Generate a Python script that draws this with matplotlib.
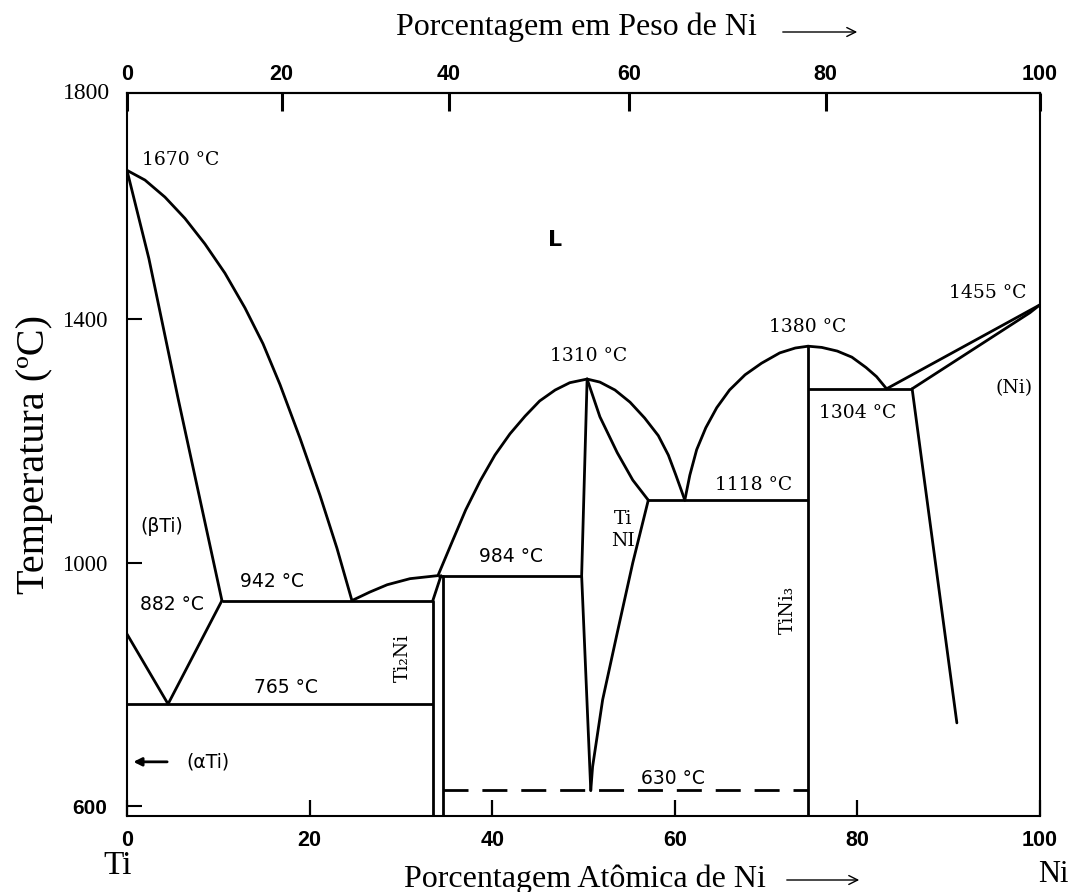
import matplotlib.pyplot as plt
from matplotlib.patches import FancyArrowPatch
import numpy as np

# Ti-Ni phase diagram
# x = at.% Ni, T = degC
M_TI = 47.867
M_NI = 58.693
T_BOTTOM = 584
T_TOP = 1772

liq_ti_x = [0, 1.97, 4.16, 6.35, 8.54, 10.73, 12.92, 14.9, 16.76, 18.95, 21.14, 23.0, 24.64]
liq_ti_T = [1645, 1629, 1601, 1566, 1524, 1476, 1419, 1360, 1293, 1205, 1111, 1024, 938]

sol_ti_x = [0, 2.4, 5.6, 10.4]
sol_ti_T = [1645, 1500, 1270, 938]

transus_x = [0, 4.5, 10.4]
transus_T = [883, 768, 938]

liq_mid_x = [24.64, 26.6, 28.5, 31.0, 34.06, 35.6, 37.1, 38.7, 40.3, 41.95,
             43.6, 45.2, 46.9, 48.5, 50.4]
liq_mid_T = [938, 952, 964, 974, 979, 1034, 1087, 1135, 1177, 1212,
             1241, 1266, 1284, 1296, 1302]

liq_tini_r_x = [50.4, 51.8, 53.45, 55.1, 56.7, 58.2, 59.3, 60.1, 60.7, 61.1]
liq_tini_r_T = [1302, 1297, 1284, 1264, 1238, 1209, 1177, 1145, 1120, 1103]

sol_tini_r_x = [50.4, 51.8, 53.7, 55.4, 57.1]
sol_tini_r_T = [1302, 1240, 1181, 1136, 1103]

solv_tini_r_x = [57.1, 55.4, 53.7, 52.1, 51.0, 50.8]
solv_tini_r_T = [1103, 1000, 885, 775, 665, 626]

tini_l_x = [50.4, 49.8, 50.8]
tini_l_T = [1302, 979, 626]

ti2ni_l_x = [33.5, 33.5]
ti2ni_l_T = [938, T_BOTTOM]
ti2ni_r_x = [34.6, 34.6]
ti2ni_r_T = [979, T_BOTTOM]
ti2ni_d_x = [33.5, 34.4]
ti2ni_d_T = [938, 979]

liq_tini3_l_x = [61.1, 61.65, 62.4, 63.4, 64.6, 66.0, 67.7, 69.5, 71.5, 73.2, 74.6]
liq_tini3_l_T = [1103, 1144, 1186, 1222, 1255, 1284, 1309, 1328, 1345, 1353, 1356]

liq_tini3_r_x = [74.6, 76.1, 77.8, 79.4, 80.95, 82.1, 83.2]
liq_tini3_r_T = [1356, 1354, 1348, 1338, 1321, 1306, 1286]

tini3_x = [74.6, 74.6]
tini3_T = [1356, T_BOTTOM]

liq_ni_x = [83.2, 100]
liq_ni_T = [1286, 1424]
sol_ni_x = [86.0, 98.9, 100]
sol_ni_T = [1286, 1411, 1424]
solv_ni_x = [86.0, 90.9]
solv_ni_T = [1286, 737]

# horizontal invariant lines: (x start, x end, T)
iso_942 = (10.4, 33.5, 938)
iso_765 = (0, 33.5, 768)
iso_984 = (34.06, 49.8, 979)
iso_1118 = (57.1, 74.6, 1103)
iso_1304 = (74.6, 86.0, 1286)
iso_630 = (34.6, 74.6, 626)

x_ticks = [0, 20, 40, 60, 80, 100]
wt_ticks = [0, 20, 40, 60, 80, 100]
y_ticks = [600, 1000, 1400]


def at_to_wt(a):
    a = np.asarray(a, dtype=float)
    return 100 * a * M_NI / (a * M_NI + (100 - a) * M_TI)


def wt_to_at(w):
    w = np.asarray(w, dtype=float)
    return 100 * (w / M_NI) / (w / M_NI + (100 - w) / M_TI)


fig = plt.figure(figsize=(10.77, 8.92), dpi=100)
ax = fig.add_axes([0.1179, 0.0852, 0.8477, 0.8105])

curves = [
    (liq_ti_x, liq_ti_T), (sol_ti_x, sol_ti_T), (transus_x, transus_T),
    (liq_mid_x, liq_mid_T), (liq_tini_r_x, liq_tini_r_T),
    (sol_tini_r_x, sol_tini_r_T), (solv_tini_r_x, solv_tini_r_T),
    (tini_l_x, tini_l_T), (ti2ni_l_x, ti2ni_l_T), (ti2ni_r_x, ti2ni_r_T),
    (ti2ni_d_x, ti2ni_d_T), (liq_tini3_l_x, liq_tini3_l_T),
    (liq_tini3_r_x, liq_tini3_r_T), (tini3_x, tini3_T),
    (liq_ni_x, liq_ni_T), (sol_ni_x, sol_ni_T), (solv_ni_x, solv_ni_T),
]
for cx, cy in curves:
    ax.plot(cx, cy, color='black', lw=2.0, solid_capstyle='round',
            solid_joinstyle='round')

for x0, x1, t in [iso_942, iso_765, iso_984, iso_1118, iso_1304]:
    ax.hlines(t, x0, x1, color='black', lw=2.0)
ax.hlines(iso_630[2], iso_630[0], iso_630[1], color='black', lw=2.0,
          linestyles=(0, (9, 5)))

ax.set_xlim(0, 100)
ax.set_ylim(T_BOTTOM, T_TOP)
for s in ax.spines.values():
    s.set_linewidth(1.5)

ax.set_xticks(x_ticks)
ax.set_xticklabels([str(v) for v in x_ticks], fontfamily='Liberation Sans',
                   fontweight='bold', fontsize=15.5)
ax.tick_params(axis='x', direction='in', length=11.5, width=1.6, pad=10)

ax.set_yticks(y_ticks)
ax.set_yticklabels([str(v) for v in y_ticks])
ax.tick_params(axis='y', direction='in', length=11, width=1.5, pad=14)
for lbl in ax.get_yticklabels():
    if lbl.get_text() == '600':
        lbl.set_fontfamily('Liberation Sans')
        lbl.set_fontweight('bold')
        lbl.set_fontsize(15)
    else:
        lbl.set_fontfamily('Liberation Serif')
        lbl.set_fontsize(16.5)
ax.text(-0.019, 1.0, '1800', transform=ax.transAxes, ha='right', va='center',
        family='Liberation Serif', fontsize=17)

secax = ax.secondary_xaxis('top', functions=(at_to_wt, wt_to_at))
secax.set_xticks(wt_ticks)
secax.set_xticklabels([str(v) for v in wt_ticks], fontfamily='Liberation Sans',
                      fontweight='bold', fontsize=15.5)
secax.tick_params(axis='x', direction='in', length=13, width=2.2, pad=6)
secax.spines['top'].set_linewidth(1.5)

# labels inside the diagram
serif = dict(family='DejaVu Serif', fontsize=13.5, ha='center', va='center')
sans = dict(family='DejaVu Sans', fontsize=13.5, ha='center', va='center')
ax.text(5.9, 1662, '1670 °C', **serif)
ax.text(46.9, 1531, 'L', family='DejaVu Sans', fontweight='bold', fontsize=16,
        ha='center', va='center')
ax.text(50.6, 1340, '1310 °C', **serif)
ax.text(74.6, 1388, '1380 °C', **serif)
ax.text(94.3, 1443, '1455 °C', **serif)
ax.text(97.2, 1287, '(Ni)', **serif)
ax.text(80.0, 1246, '1304 °C', **serif)
ax.text(68.6, 1128, '1118 °C', **serif)
ax.text(54.3, 1054, 'Ti\nNI', linespacing=1.25, **serif)
ax.text(42.1, 1010, '984 °C', **sans)
ax.text(72.4, 923, 'TiNi₃', rotation=90, **serif)
ax.text(30.2, 844, 'Ti₂Ni', rotation=90, **serif)
ax.text(15.9, 969, '942 °C', **sans)
ax.text(4.9, 931, '882 °C', **sans)
ax.text(17.4, 795, '765 °C', **sans)
ax.text(3.8, 1059, '(βTi)', **sans)
ax.text(8.9, 673, '(αTi)', **sans)
ax.annotate('', xy=(0.7, 673), xytext=(4.4, 673),
            arrowprops=dict(arrowstyle='-|>', color='black', lw=2,
                            mutation_scale=12, shrinkA=0, shrinkB=0))
ax.text(59.8, 645, '630 °C', **sans)

# axis titles
title_font = dict(family='Liberation Serif', fontsize=23, ha='center', va='center')
fig.text(576 / 1077, 1 - 27 / 892, 'Porcentagem em Peso de Ni', **title_font)
fig.text(585 / 1077, 1 - 879 / 892, 'Porcentagem Atômica de Ni', **title_font)
for yy, x0, x1 in [(32, 780, 860), (880, 784, 862)]:
    fig.add_artist(FancyArrowPatch(
        (x0 / 1077, 1 - yy / 892), (x1 / 1077, 1 - yy / 892),
        transform=fig.transFigure, arrowstyle='->', mutation_scale=16,
        color='black', lw=1.0))
fig.text(35 / 1077, 1 - 455 / 892, 'Temperatura (ºC)', rotation=90,
         family='Liberation Serif', fontsize=29, ha='center', va='center')
fig.text(118 / 1077, 1 - 866 / 892, 'Ti', family='Liberation Serif',
         fontsize=24, ha='center', va='center')
fig.text(1053 / 1077, 1 - 874 / 892, 'Ni', family='Liberation Serif',
         fontsize=22, ha='center', va='center')

fig.savefig('out.png', dpi=100)
